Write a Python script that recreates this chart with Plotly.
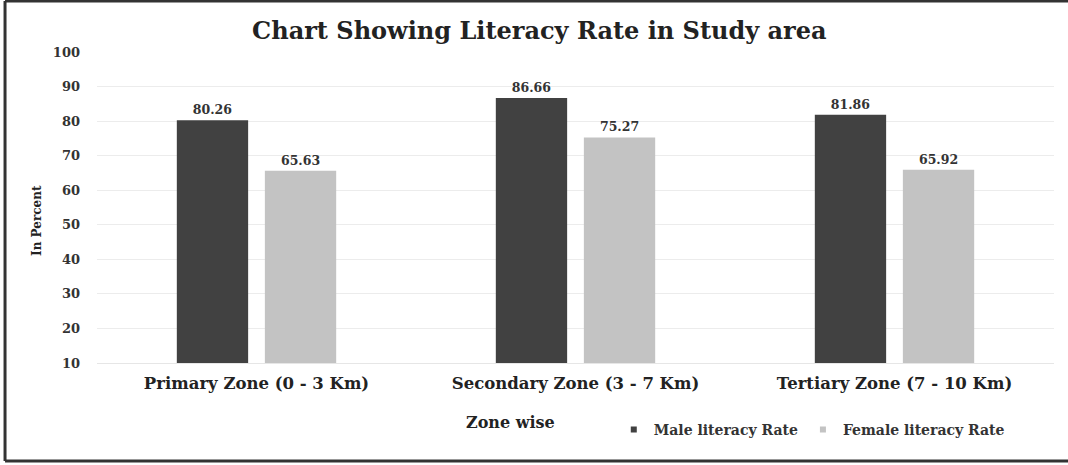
import plotly.graph_objects as go

zones = ["Primary Zone (0 - 3 Km)", "Secondary Zone (3 - 7 Km)", "Tertiary Zone (7 - 10 Km)"]
male_rate = [80.26, 86.66, 81.86]
female_rate = [65.63, 75.27, 65.92]
y_ticks = [10, 20, 30, 40, 50, 60, 70, 80, 90, 100]
series_names = ["Male literacy Rate", "Female literacy Rate"]
series_colors = ["#414141", "#c3c3c3"]

SERIF = "DejaVu Serif, Liberation Serif, serif"

fig = go.Figure()
for name, vals, col in zip(series_names, [male_rate, female_rate], series_colors):
    fig.add_trace(go.Bar(
        name=name, x=zones, y=[v - 10 for v in vals], base=10,
        marker=dict(color=col, line=dict(color=col, width=0)),
        text=[f"{v:.2f}" for v in vals], textposition="outside",
        textfont=dict(family=SERIF, size=12.5, color="#333333", weight="bold"),
        cliponaxis=False, showlegend=False,
        hovertemplate="%{x}<br>" + name + ": %{text}<extra></extra>",
    ))
# legend entries with small square markers
for name, col in zip(series_names, series_colors):
    fig.add_trace(go.Scatter(
        name=name, x=[None], y=[None], mode="markers",
        marker=dict(symbol="square", size=6, color=col),
        showlegend=True,
    ))

fig.update_layout(
    width=1068, height=465,
    margin=dict(l=97, r=14, t=52, b=102),
    paper_bgcolor="white", plot_bgcolor="white",
    barmode="group", bargap=0.448, bargroupgap=0.19,
    title=dict(text="<b>Chart Showing Literacy Rate in Study area</b>",
               x=0.505, xanchor="center", y=0.935, yanchor="middle",
               font=dict(family=SERIF, size=24, color="#222222")),
    font=dict(family=SERIF, color="#333333"),
    legend=dict(orientation="h", x=0.54, xanchor="left", y=-0.215, yanchor="middle",
                font=dict(family=SERIF, size=14, color="#333333", weight="bold"),
                itemwidth=30, bgcolor="rgba(0,0,0,0)"),
    showlegend=True,
)
fig.update_xaxes(
    showgrid=False, showline=True, linecolor="#e6e6e6", linewidth=1,
    tickfont=dict(family=SERIF, size=16.5, color="#222222", weight="bold"),
    ticks="", ticklabelstandoff=5,
)
fig.update_yaxes(
    range=[10, 100], tickvals=y_ticks, showgrid=True, gridcolor="#ececec", gridwidth=1,
    zeroline=False, showline=False,
    tickfont=dict(family=SERIF, size=13, color="#333333", weight="bold"),
    ticklabelstandoff=16,
)

# y-axis title (placed like the reference, slightly below the axis centre)
fig.add_annotation(text="<b>In Percent</b>", xref="paper", yref="paper",
                   x=-0.0627, y=0.46, xanchor="center", yanchor="middle", textangle=-90,
                   showarrow=False, font=dict(family=SERIF, size=12, color="#222222"))
fig.add_annotation(text="<b>Zone wise</b>", xref="paper", yref="paper",
                   x=0.4316, y=-0.19, xanchor="center", yanchor="middle", showarrow=False,
                   font=dict(family=SERIF, size=16, color="#222222"))

# outer frame (left, top, bottom)
border = dict(color="#333333", width=3)
fig.add_shape(type="line", xref="paper", yref="paper", x0=-0.0961, x1=-0.0961, y0=-0.315, y1=1.164, line=border)
fig.add_shape(type="line", xref="paper", yref="paper", x0=-0.0961, x1=1.02, y0=1.164, y1=1.164, line=border)
fig.add_shape(type="line", xref="paper", yref="paper", x0=-0.0961, x1=1.02, y0=-0.315, y1=-0.315, line=border)

fig.write_html("out.html", config={"displayModeBar": False},
               post_script="document.body.style.margin='0';")
